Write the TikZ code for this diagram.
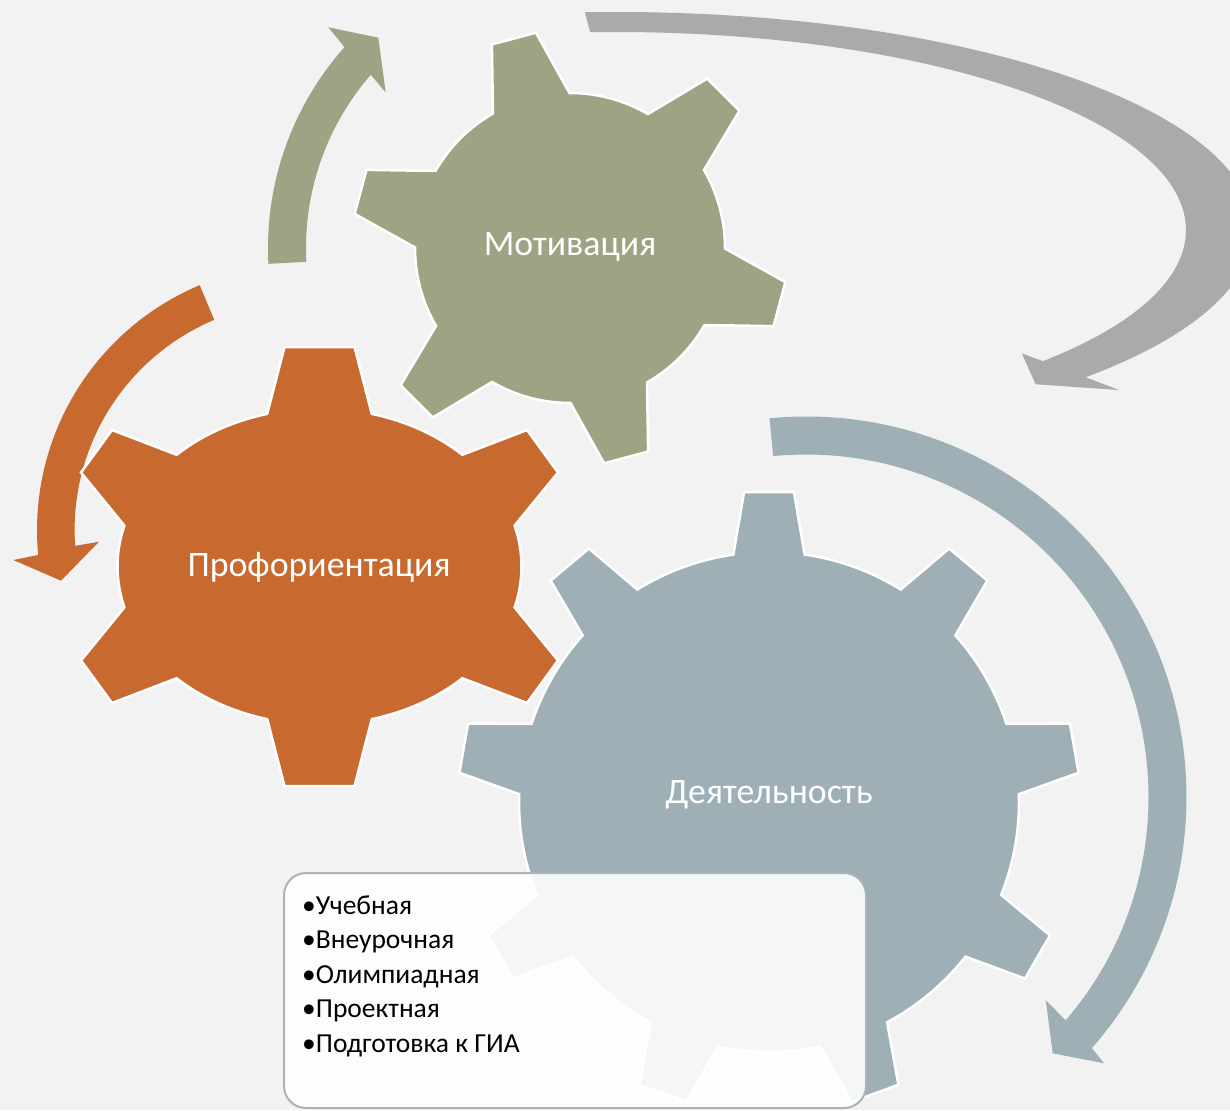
\documentclass[tikz,border=0pt]{standalone}
\usepackage{fontspec}
\setmainfont{Carlito}
\definecolor{bgc}{HTML}{F2F2F2}
\definecolor{ggreen}{HTML}{9CA483}
\definecolor{gorange}{HTML}{C8692F}
\definecolor{gblue}{HTML}{9EB0B6}
\definecolor{ggray}{HTML}{AAAAAA}
\definecolor{boxline}{HTML}{A5B5BB}
\begin{document}
\begin{tikzpicture}[x=1pt,y=-1pt,
  gearshape/.style={line width=2.5pt, draw=white, line join=miter},
  gearlabel/.style={text=white, font=\fontsize{35.8}{42}\selectfont, inner sep=0pt},
  itemtext/.style={text=black, font=\fontsize{27.5}{33}\selectfont, inner sep=0pt, anchor=base west},
  textbox/.style={draw=boxline, line width=2pt, fill=white, fill opacity=0.9, rounded corners=22pt, inner sep=0pt}
]
\clip (0,0) rectangle (1230,1110);
\fill[bgc] (0,0) rectangle (1230,1110);

% ---- circular arrows ----
\begin{scope}[shift={(616,230)}]
\fill[ggray] (-92.8:637 and 218) arc[start angle=-92.8,end angle=42.5,x radius=637,y radius=218]
  -- (503,160) -- (419.7,154.3) -- (405.7,123.3)
  -- (41.5:570 and 198) arc[start angle=41.5,end angle=-92.6,x radius=570,y radius=198] -- cycle;
\end{scope}
\begin{scope}[shift={(570,248)}]
\fill[ggreen] (177:302) arc[start angle=177,end angle=221.7,radius=302]
  -- (-241.7,-220.7) -- (-191.7,-210.3) -- (-184.3,-155.7)
  -- (221:264) arc[start angle=221,end angle=177,radius=264] -- cycle;
\end{scope}
\begin{scope}[shift={(302.6,530)}]
\fill[gorange] (-112.8:265.6) arc[start angle=-112.8,end angle=-185.4,radius=265.6]
  -- (-289.3,30) -- (-241.6,50.7) -- (-203.6,11.7)
  -- (-184:228) arc[start angle=-184,end angle=-112.8,radius=228] -- cycle;
\end{scope}
\begin{scope}[shift={(806,797)}]
\fill[gblue] (-95.5:380.5) arc[start angle=-95.5,end angle=41.3,radius=380.5]
  -- (298,266.3) -- (246.7,256.3) -- (239.7,203)
  -- (40.7:342.5) arc[start angle=40.7,end angle=-95.5,radius=342.5] -- cycle;
\end{scope}

% ---- gears ----
\begin{scope}[shift={(769,802)}]
\filldraw[gearshape, fill=gblue] (-98.2:250)
  \foreach \a in {-90,-50,...,230} { -- (\a-8.2:250) -- (\a-4.6:311) -- (\a+4.6:311) -- (\a+8.2:250)
    arc[start angle=\a+8.2, end angle=\a+31.8, radius=250] } -- cycle;
\end{scope}
\begin{scope}[shift={(319.5,566.5)}]
\filldraw[gearshape, fill=gorange] (-105:202 and 158) -- (-35,-219.5) -- (35,-219.5)
  -- (-75:202 and 158) arc[start angle=-75,end angle=-45,x radius=202,y radius=158]
  -- (207.5,-136.5) -- (238.5,-94)
  -- (-15:202 and 158) arc[start angle=-15,end angle=15,x radius=202,y radius=158]
  -- (238.5,94) -- (207.5,136.5)
  -- (45:202 and 158) arc[start angle=45,end angle=75,x radius=202,y radius=158]
  -- (35,219.5) -- (-35,219.5)
  -- (105:202 and 158) arc[start angle=105,end angle=135,x radius=202,y radius=158]
  -- (-207.5,136.5) -- (-238.5,94)
  -- (165:202 and 158) arc[start angle=165,end angle=195,x radius=202,y radius=158]
  -- (-238.5,-94) -- (-207.5,-136.5)
  -- (225:202 and 158) arc[start angle=225,end angle=255,x radius=202,y radius=158] -- cycle;
\end{scope}
\begin{scope}[shift={(570,248)}]
\filldraw[gearshape, fill=ggreen] (-119.8:155)
  \foreach \a in {-105,-45,...,195} { -- (\a-14.8:155) -- (\a-6:218) -- (\a+6:218) -- (\a+14.8:155)
    arc[start angle=\a+14.8, end angle=\a+45.2, radius=155] } -- cycle;
\end{scope}

% ---- labels ----
\node[gearlabel] (motiv) at (570,247) {Мотивация};
\node[gearlabel] (proforient) at (319,567) {Профориентация};
\node[gearlabel] (activity) at (769,795) {Деятельность};

% ---- text box ----
\node[textbox, minimum width=582pt, minimum height=235pt] (box) at (575,990.5) {};
\node[itemtext] (i1) at (302,914) {•Учебная};
\node[itemtext] (i2) at (302,948.5) {•Внеурочная};
\node[itemtext] (i3) at (302,983) {•Олимпиадная};
\node[itemtext] (i4) at (302,1017.5) {•Проектная};
\node[itemtext] (i5) at (302,1052) {•Подготовка к ГИА};
\end{tikzpicture}
\end{document}
